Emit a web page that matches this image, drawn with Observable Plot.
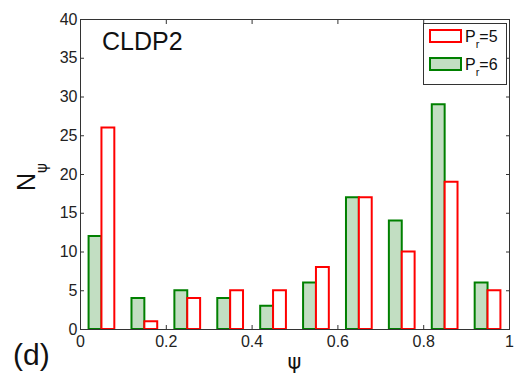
<!DOCTYPE html>
<html><head><meta charset="utf-8">
<script src="https://cdn.jsdelivr.net/npm/d3@7"></script>
<script src="https://cdn.jsdelivr.net/npm/@observablehq/plot@0.6"></script>
<style>
body{margin:0;background:#fff}
svg{font-family:"Liberation Sans",Arial,Helvetica,sans-serif}
</style>
</head><body><div id="chart"></div>
<script>
const binCenters = [0.05, 0.15, 0.25, 0.35, 0.45, 0.55, 0.65, 0.75, 0.85, 0.95];
const countsPr5 = [26, 1, 4, 5, 5, 8, 17, 10, 19, 5];
const countsPr6 = [12, 4, 5, 4, 3, 6, 17, 14, 29, 6];
const xTicks = [0, 0.2, 0.4, 0.6, 0.8, 1];
const yTicks = [0, 5, 10, 15, 20, 25, 30, 35, 40];
const seriesNames = ["P_r=5", "P_r=6"];
const barHalf = 0.03;

const pr5 = binCenters.map((c, i) => ({x1: c, x2: c + barHalf, y: countsPr5[i]}));
const pr6 = binCenters.map((c, i) => ({x1: c - barHalf, x2: c, y: countsPr6[i]}));

const axisColor = "#333";
const tickFont = 16;
const tickLen = 4;
const noText = () => "";

const plot = Plot.plot({
  width: 516,
  height: 374,
  marginLeft: 80,
  marginRight: 7,
  marginTop: 19,
  marginBottom: 45,
  x: {domain: [0, 1]},
  y: {domain: [0, 40]},
  style: {fontFamily: '"Liberation Sans", Arial, sans-serif', color: "#222", background: "#fff"},
  marks: [
    Plot.rectY(pr6, {x1: "x1", x2: "x2", y: "y", fill: "#c2dec2", stroke: "#008000", strokeWidth: 2}),
    Plot.rectY(pr5, {x1: "x1", x2: "x2", y: "y", fill: "#fff", stroke: "#ff0000", strokeWidth: 2}),
    Plot.frame({stroke: axisColor, strokeWidth: 1}),
    // inward ticks on all four sides
    Plot.axisX({ticks: xTicks, tickSize: tickLen, dy: -tickLen, tickFormat: noText, label: null, stroke: axisColor}),
    Plot.axisX({anchor: "top", ticks: xTicks, tickSize: tickLen, dy: tickLen, tickFormat: noText, label: null, stroke: axisColor}),
    Plot.axisY({ticks: yTicks, tickSize: tickLen, dx: tickLen, tickFormat: noText, label: null, stroke: axisColor}),
    Plot.axisY({anchor: "right", ticks: yTicks, tickSize: tickLen, dx: -tickLen, tickFormat: noText, label: null, stroke: axisColor}),
    // tick labels
    Plot.axisX({ticks: xTicks, tickSize: 0, tickPadding: 6, tickFormat: d => String(d), fontSize: tickFont, label: null}),
    Plot.axisY({ticks: yTicks, tickSize: 0, tickPadding: 3, fontSize: tickFont, label: null})
  ]
});

document.getElementById("chart").appendChild(plot);

const svg = d3.select(plot);
const fx = plot.scale("x");
const fy = plot.scale("y");
const pLeft = fx.apply(0), pRight = fx.apply(1), pTop = fy.apply(40), pBottom = fy.apply(0);

// panel title
svg.append("text").attr("x", pLeft + 22).attr("y", pTop + 31).attr("text-anchor", "start")
  .attr("font-size", 25).attr("fill", "#111").text("CLDP2");

// panel letter
svg.append("text").attr("x", 13).attr("y", pBottom + 36).attr("text-anchor", "start")
  .attr("font-size", 30).attr("fill", "#111").text("(d)");

// x label
svg.append("text").attr("x", (pLeft + pRight) / 2).attr("y", pBottom + 40)
  .attr("text-anchor", "middle").attr("font-family", "DejaVu Sans")
  .attr("font-size", 21).attr("fill", "#111").text("ψ");

// y label N_ψ
const yl = svg.append("text").attr("transform", `translate(35,${(pTop + pBottom) / 2 + 17}) rotate(-90)`)
  .attr("text-anchor", "start").attr("font-size", 25).attr("fill", "#111");
yl.append("tspan").text("N");
yl.append("tspan").attr("dy", 12).attr("font-size", 15).attr("font-family", "DejaVu Sans").text("ψ");

// legend
const lg = svg.append("g").attr("transform", `translate(${pRight - 86},${pTop + 4})`);
lg.append("rect").attr("x", 0.5).attr("y", 0.5).attr("width", 83).attr("height", 61)
  .attr("fill", "#fff").attr("stroke", axisColor).attr("stroke-width", 1);
const legendItems = [
  {name: seriesNames[0], fill: "#fff", stroke: "#ff0000"},
  {name: seriesNames[1], fill: "#c2dec2", stroke: "#008000"}
];
legendItems.forEach((it, i) => {
  const y0 = 7 + i * 28;
  lg.append("rect").attr("x", 7).attr("y", y0).attr("width", 31).attr("height", 12)
    .attr("fill", it.fill).attr("stroke", it.stroke).attr("stroke-width", 2);
  const [base, rest] = it.name.split("_");
  const t = lg.append("text").attr("x", 42).attr("y", y0 + 12).attr("text-anchor", "start")
    .attr("font-size", 16).attr("fill", "#111");
  t.append("tspan").text(base);
  t.append("tspan").attr("dy", 6).attr("font-size", 11).text(rest[0]);
  t.append("tspan").attr("dy", -6).text(rest.slice(1));
});
</script>
</body></html>
